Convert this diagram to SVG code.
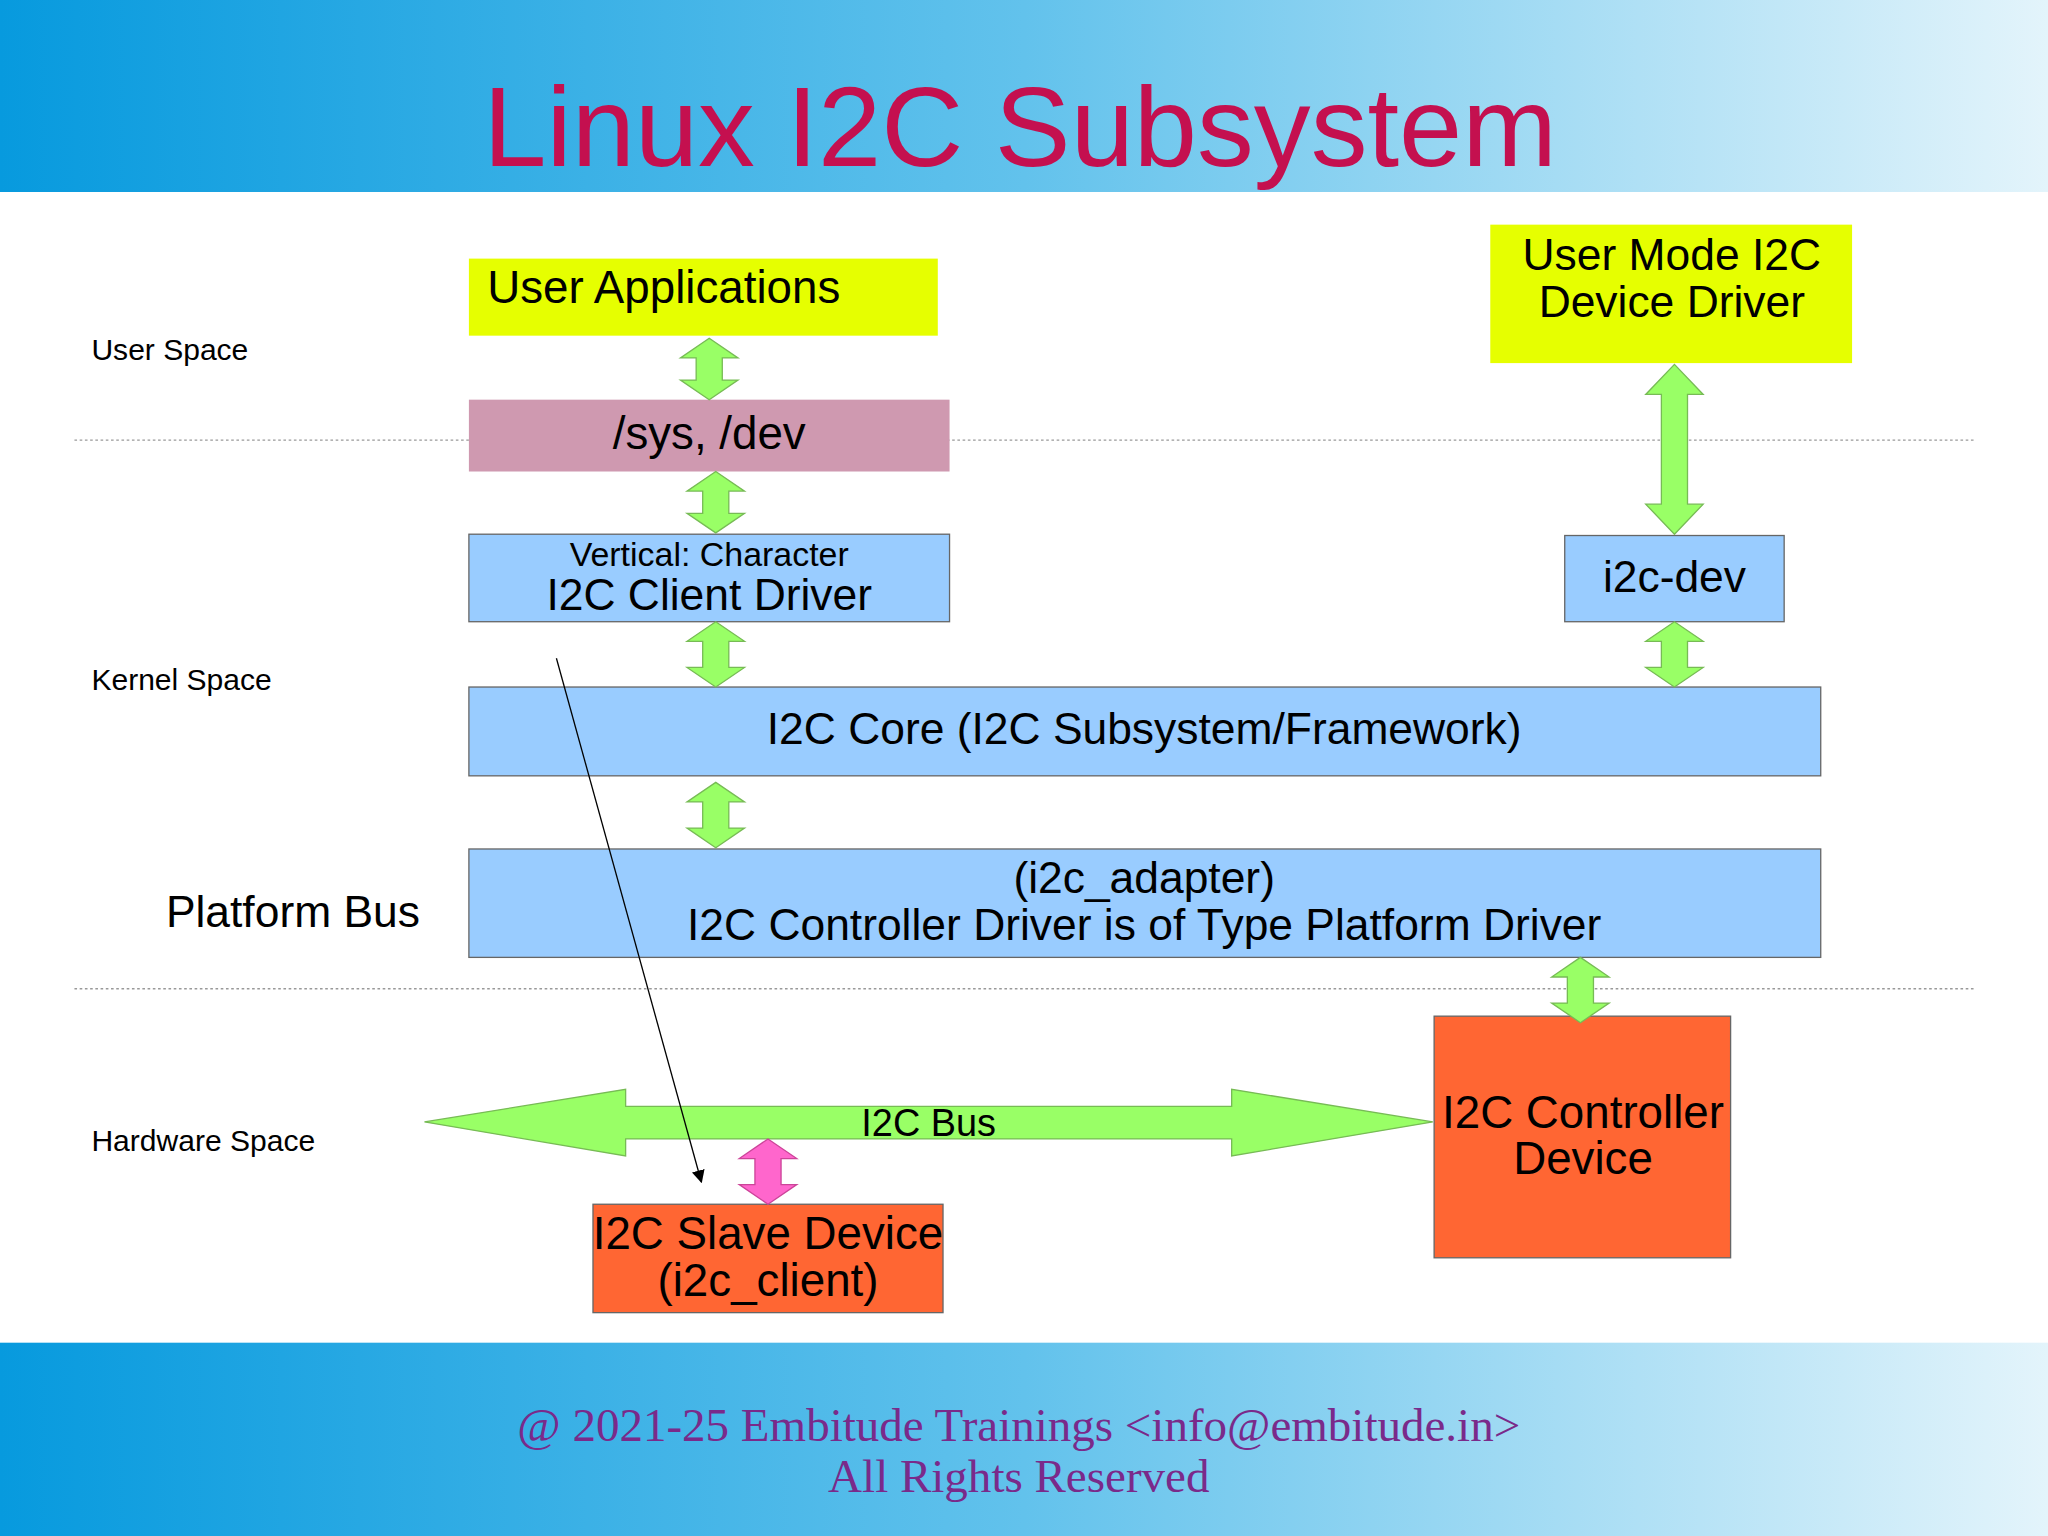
<svg xmlns="http://www.w3.org/2000/svg" width="2048" height="1536" viewBox="0 0 2048 1536">
<defs>
<linearGradient id="bg" x1="0" x2="1" y1="0" y2="0"><stop offset="0" stop-color="#079ade"/><stop offset="0.5" stop-color="#62c2ec"/><stop offset="1" stop-color="#e3f4fb"/></linearGradient>
<marker id="ah" markerWidth="10" markerHeight="10" refX="9" refY="5" orient="auto" markerUnits="userSpaceOnUse"><path d="M0,0 L10,5 L0,10 z" fill="#000"/></marker>
<style>
text{font-family:"Liberation Sans",Arial,sans-serif;fill:#000}
.box{stroke:#666;stroke-width:1}
.blue{fill:#99ccff}.yel{fill:#e6ff00}.org{fill:#ff6633}
.ga{fill:#99ff66;stroke:#77bb55;stroke-width:1}
.c{text-anchor:middle}
.dot{stroke:#999;stroke-width:1;stroke-dasharray:2,2}
</style>
</defs>
<rect width="2048" height="1536" fill="#fff"/>
<g transform="scale(1.30612)">
<rect x="0" y="0" width="1568" height="147" fill="url(#bg)"/>
<rect x="0" y="1028" width="1568" height="148" fill="url(#bg)"/>
<text x="781" y="127" class="c" font-size="87" style="fill:#c4104f">Linux I2C Subsystem</text>
<text x="780" y="1103" class="c" font-size="36" style="font-family:'Liberation Serif',serif;fill:#7a2a8a">@ 2021-25 Embitude Trainings &lt;info@embitude.in&gt;</text>
<text x="780" y="1142" class="c" font-size="36" style="font-family:'Liberation Serif',serif;fill:#7a2a8a">All Rights Reserved</text>
<line x1="57" y1="337" x2="1512" y2="337" class="dot"/>
<line x1="57" y1="757" x2="1512" y2="757" class="dot"/>
<text x="70" y="276" font-size="23">User Space</text>
<text x="70" y="528" font-size="23">Kernel Space</text>
<text x="127" y="710" font-size="34">Platform Bus</text>
<text x="70" y="881" font-size="23">Hardware Space</text>
<g id="userapps"><rect x="359" y="198" width="359" height="59" class="yel"/><text x="373" y="232" font-size="35">User Applications</text></g>
<g id="umdd"><rect x="1141" y="172" width="277" height="106" class="yel"/><text x="1280" y="207" class="c" font-size="34">User Mode I2C</text><text x="1280" y="243" class="c" font-size="34">Device Driver</text></g>
<g id="sysdev"><rect x="359" y="306" width="368" height="55" fill="#cf99b0"/><text x="543" y="344" class="c" font-size="35">/sys, /dev</text></g>
<g id="client"><rect x="359" y="409" width="368" height="67" class="blue box"/><text x="543" y="433" class="c" font-size="26">Vertical: Character</text><text x="543" y="467" class="c" font-size="34">I2C Client Driver</text></g>
<g id="i2cdev"><rect x="1198" y="410" width="168" height="66" class="blue box"/><text x="1282" y="453" class="c" font-size="34">i2c-dev</text></g>
<g id="core"><rect x="359" y="526" width="1035" height="68" class="blue box"/><text x="876" y="570" class="c" font-size="34">I2C Core (I2C Subsystem/Framework)</text></g>
<g id="adapter"><rect x="359" y="650" width="1035" height="83" class="blue box"/><text x="876" y="684" class="c" font-size="34">(i2c_adapter)</text><text x="876" y="720" class="c" font-size="34">I2C Controller Driver is of Type Platform Driver</text></g>
<g id="ctrl"><rect x="1098" y="778" width="227" height="185" class="org box"/><text x="1212" y="864" class="c" font-size="35">I2C Controller</text><text x="1212" y="899" class="c" font-size="35">Device</text></g>
<g id="slave"><rect x="454" y="922" width="268" height="83" class="org box"/><text x="588" y="956" class="c" font-size="35">I2C Slave Device</text><text x="588" y="992" class="c" font-size="35">(i2c_client)</text></g>
<g id="bus"><polygon class="ga" points="325,859 479,834 479,847 943,847 943,834 1097,859 943,885 943,872 479,872 479,885"/><text x="711" y="870" class="c" font-size="29">I2C Bus</text></g>
<g id="connectors">
<polygon class="ga" points="543,259 565,274 553,274 553,291 565,291 543,306 521,291 533,291 533,274 521,274"/>
<polygon class="ga" points="548,361 570,376 558,376 558,393 570,393 548,408 526,393 538,393 538,376 526,376"/>
<polygon class="ga" points="548,476 570,491 558,491 558,511 570,511 548,526 526,511 538,511 538,491 526,491"/>
<polygon class="ga" points="548,599 570,614 558,614 558,634 570,634 548,649 526,634 538,634 538,614 526,614"/>
<polygon class="ga" points="1282,279 1304,302 1292,302 1292,386 1304,386 1282,409 1260,386 1272,386 1272,302 1260,302"/>
<polygon class="ga" points="1282,476 1304,491 1292,491 1292,511 1304,511 1282,526 1260,511 1272,511 1272,491 1260,491"/>
<polygon class="ga" points="1210,733 1232,748 1220,748 1220,768 1232,768 1210,783 1188,768 1200,768 1200,748 1188,748"/>
<polygon points="588,872 610,887 598,887 598,907 610,907 588,922 566,907 578,907 578,887 566,887" fill="#ff66cc" stroke="#cc4499"/>
<line x1="426" y1="504" x2="537" y2="905" stroke="#000" stroke-width="1" marker-end="url(#ah)"/>
</g>
</g>
</svg>
